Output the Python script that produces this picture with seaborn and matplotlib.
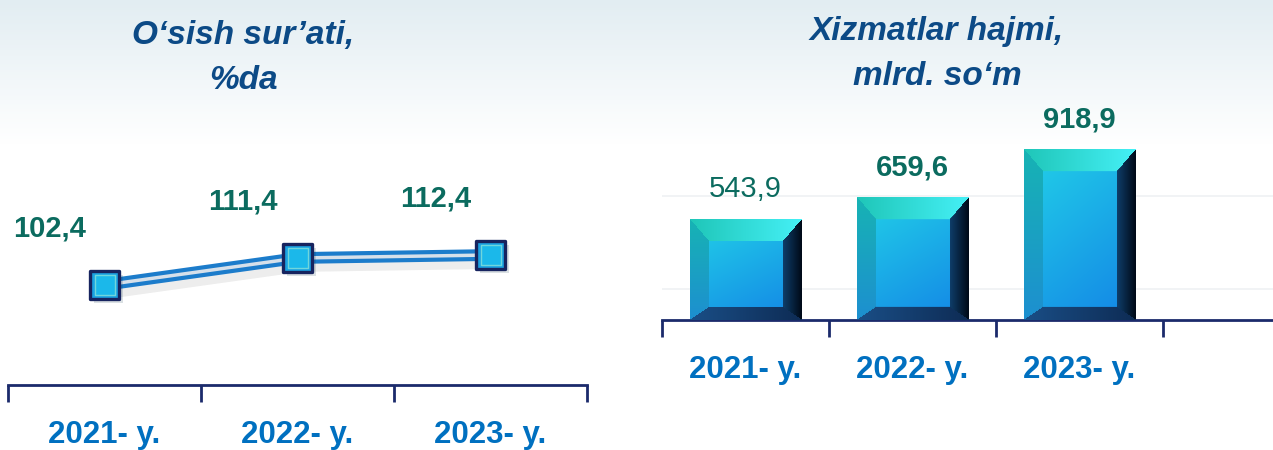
import matplotlib
matplotlib.use("Agg")
import matplotlib.pyplot as plt
import matplotlib.patheffects as pe
import numpy as np
import pandas as pd
import seaborn as sns

# chart data
years = ["2021- y.", "2022- y.", "2023- y."]
growth_rate = [102.4, 111.4, 112.4]
growth_labels = ["102,4", "111,4", "112,4"]
services_volume = [543.9, 659.6, 918.9]
services_labels = ["543,9", "659,6", "918,9"]

title_left = "O‘sish sur’ati,\n%da"
title_right = "Xizmatlar hajmi,\nmlrd. so‘m"

TITLE_COLOR = "#0C4A86"
CAT_COLOR = "#0070C0"
VALUE_COLOR = "#0B6B5F"
AXIS_COLOR = "#1B2A6B"

sns.set_theme(style="white")
plt.rcParams['font.family'] = ['Liberation Sans', 'DejaVu Sans']

W, H = 1273, 450
fig = plt.figure(figsize=(W / 100, H / 100), dpi=100)

# soft background gradient (light blue at the top fading to white)
bg = fig.add_axes([0, 0, 1, 1], zorder=-5)
rows = np.linspace(0, 1, H)
t = np.clip(rows / 0.32, 0, 1)
top_col = np.array([226, 237, 242]) / 255
grad = top_col[None, :] * (1 - t[:, None]) + np.ones(3)[None, :] * t[:, None]
bg.imshow(grad[:, None, :], aspect='auto', extent=[0, 1, 0, 1])
bg.axis('off')


def style_cat_axis(ax, n_units):
    for s in ["left", "right", "top"]:
        ax.spines[s].set_visible(False)
    ax.spines["bottom"].set_color(AXIS_COLOR)
    ax.spines["bottom"].set_linewidth(2)
    ax.set_xticks([-0.5 + i for i in range(n_units)])
    ax.set_xticklabels([])
    ax.set_xticks(range(len(years)), minor=True)
    ax.set_xticklabels(years, minor=True)
    ax.tick_params(axis='x', which='major', length=12, width=2, color=AXIS_COLOR, direction='out', bottom=True)
    ax.tick_params(axis='x', which='minor', length=0, pad=25, labelsize=22.5, labelcolor=CAT_COLOR)
    for lab in ax.get_xticklabels(minor=True):
        lab.set_fontweight('bold')
    ax.set_yticklabels([])
    ax.tick_params(axis='y', length=0)
    ax.set_xlabel("")
    ax.set_ylabel("")
    ax.patch.set_alpha(0)


# ---------- left panel: growth rate line ----------
df_growth = pd.DataFrame({"year": years, "rate": growth_rate})
ax1 = fig.add_axes([8 / W, 65 / H, 579 / W, 255 / H])
sns.lineplot(data=df_growth, x="year", y="rate", ax=ax1, color="#D6E0EA", linewidth=2.5, sort=False,
             path_effects=[pe.SimpleLineShadow(offset=(2, -4), alpha=0.08, shadow_color='k', linewidth=12),
                           pe.Stroke(linewidth=8.5, foreground="#1C7CCB"), pe.Normal()])
sns.scatterplot(data=df_growth, x="year", y="rate", ax=ax1, marker="s", s=420, color="#1AA2E2",
                edgecolor="#17245F", linewidth=2.4, zorder=5, legend=False)
ax1.collections[-1].set_path_effects([pe.SimplePatchShadow(offset=(3, -3), alpha=0.15), pe.Normal()])
sns.scatterplot(data=df_growth, x="year", y="rate", ax=ax1, marker="s", s=225, color="#1BB8EA",
                edgecolor="#6FD6DC", linewidth=1.0, zorder=6, legend=False)
for i, lab in enumerate(growth_labels):
    ax1.annotate(lab, (i, growth_rate[i]), xytext=(-55, 57), textcoords='offset pixels',
                 ha='center', va='center', fontsize=21, fontweight='bold', color=VALUE_COLOR)
style_cat_axis(ax1, 4)
ax1.set_xlim(-0.5, 2.5)
ax1.set_ylim(69.07, 154.07)

# ---------- right panel: services volume bars ----------
df_services = pd.DataFrame({"year": years, "volume": services_volume})
ax2 = fig.add_axes([662 / W, 130 / H, (W - 662) / W, 190 / H])
sns.barplot(data=df_services, x="year", y="volume", ax=ax2, width=0.67, color="#1AA0E0")
xmax = -0.5 + (W - 662) / 167
ymax = 1027


def hexrgb(h):
    h = h.lstrip('#')
    return np.array([int(h[k:k + 2], 16) for k in (0, 2, 4)]) / 255


def bevel_image(wpx, hpx):
    i = np.arange(hpx)[:, None] * np.ones((1, wpx))
    j = np.ones((hpx, 1)) * np.arange(wpx)[None, :]
    bt, bb, bl, br = 22.0, 13.0, 19.0, 19.0
    dt, db, dl, dr = i / bt, (hpx - 1 - i) / bb, j / bl, (wpx - 1 - j) / br
    u = j / max(wpx - 1, 1)
    v = i / max(hpx - 1, 1)
    img = np.zeros((hpx, wpx, 3))
    # center gradient
    c1, c2 = hexrgb("#22D2E8"), hexrgb("#1384E6")
    m = np.clip(0.35 * u + 0.65 * v, 0, 1)[..., None]
    img[:] = c1 * (1 - m) + c2 * m
    dmin = np.minimum.reduce([dt, db, dl, dr])
    edge = dmin < 1
    top_r = edge & (dt == dmin)
    bot_r = edge & (db == dmin) & ~top_r
    left_r = edge & (dl == dmin) & ~top_r & ~bot_r
    right_r = edge & (dr == dmin) & ~top_r & ~bot_r & ~left_r
    # top bevel: bright cyan, greener at the left
    tc = hexrgb("#1FC6B8") * (1 - u[..., None]) + hexrgb("#45F0F6") * u[..., None]
    img[top_r] = tc[top_r]
    # left bevel: teal to blue downwards
    lc = hexrgb("#17B3B4") * (1 - v[..., None]) + hexrgb("#1D8FD0") * v[..., None]
    img[left_r] = lc[left_r]
    # right bevel: dark navy to black
    rr = np.clip(dr, 0, 1)[..., None]
    rc = hexrgb("#000A18") * (1 - rr) + hexrgb("#0F3F6C") * rr
    img[right_r] = rc[right_r]
    # bottom bevel
    bc = hexrgb("#1A4E86") * (1 - u[..., None]) + hexrgb("#0E2C55") * u[..., None]
    img[bot_r] = bc[bot_r]
    return img


for patch in list(ax2.patches):
    x0, w, h = patch.get_x(), patch.get_width(), patch.get_height()
    wpx = int(round(w * 167))
    hpx = int(round(h / ymax * 190))
    ax2.imshow(bevel_image(wpx, hpx), extent=(x0, x0 + w, 0, h), aspect='auto',
               clip_path=patch, zorder=3, interpolation='bilinear')

for i, lab in enumerate(services_labels):
    ax2.annotate(lab, (i, services_volume[i]), xytext=(0, 30), textcoords='offset pixels',
                 ha='center', va='center', fontsize=21,
                 fontweight='normal' if i == 0 else 'bold', color=VALUE_COLOR)

ax2.set_yticks([165, 670])
ax2.grid(axis='y', color='#EFF1F3', linewidth=1.2)
style_cat_axis(ax2, 4)
ax2.set_axisbelow(True)
ax2.set_xlim(-0.5, xmax)
ax2.set_ylim(0, ymax)

# titles
fig.text(243 / W, 1 - 58 / H, title_left, ha='center', va='center', fontsize=24,
         fontweight='bold', fontstyle='italic', color=TITLE_COLOR, linespacing=1.55)
fig.text(937 / W, 1 - 54 / H, title_right, ha='center', va='center', fontsize=24,
         fontweight='bold', fontstyle='italic', color=TITLE_COLOR, linespacing=1.6)

fig.savefig("out.png", dpi=100)
